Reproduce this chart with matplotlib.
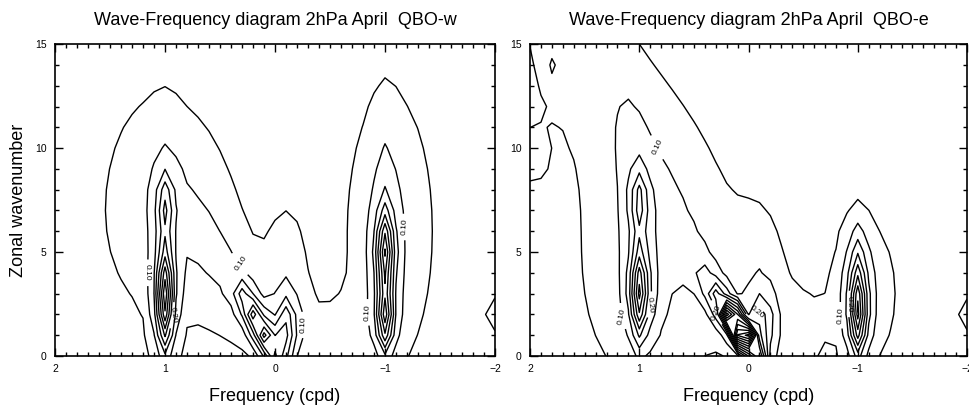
import numpy as np
import matplotlib
matplotlib.use("Agg")
import matplotlib.pyplot as plt
from matplotlib.ticker import MultipleLocator

plt.rcParams['font.family'] = ['Liberation Sans', 'DejaVu Sans']

# Frecuencia (cpd) y numero de onda zonal de la malla
freq = np.round(np.arange(2.0, -2.0001, -0.1), 2)
wave = np.arange(0, 16)

levels = [0.05, 0.10, 0.15, 0.20, 0.25, 0.30, 0.35, 0.40, 0.45, 0.50, 0.55, 0.60, 0.65, 0.70]
label_levels = [0.10, 0.20]

# Picos espectrales QBO-w: centro (f, k), amplitud, anchos, inclinacion df/dk
w_f0 = [1.00, 1.00, 1.00, 1.00, 0.45, 0.12, -0.10, -0.12, -1.05, -1.00, -1.00,
        -1.00, -2.00, -0.50]
w_k0 = [7.0, 2.8, 7.3, 4.5, 4.0, 1.2, 1.3, 3.0, 6.0, 5.0, 1.8, 5.0, 2.0, 1.0]
w_amp = [0.075, 0.33, 0.12, 0.06, 0.06, 0.30, 0.18, 0.07, 0.09, 0.25, 0.25,
         0.07, 0.07, 0.04]
w_sf = [0.60, 0.055, 0.055, 0.09, 0.25, 0.07, 0.07, 0.15, 0.35, 0.055, 0.055,
        0.08, 0.10, 0.20]
w_sk = [5.5, 1.6, 1.0, 4.0, 3.5, 1.5, 1.0, 3.3, 6.0, 1.3, 1.0, 4.0, 1.0, 1.5]
w_tilt = [0.0, 0.0, 0.0, 0.0, 0.08, 0.09, 0.0, 0.0, 0.0, 0.0, 0.0, 0.0, 0.0, 0.0]

# Picos espectrales QBO-e
e_f0 = [1.55, 0.90, 1.00, 1.00, 0.97, 0.07, 0.25, -0.12, -0.12, -1.05, -1.00,
        -1.00, -2.00, 1.80, -0.45, 2.00]
e_k0 = [15.0, 4.0, 3.0, 7.5, 6.0, 1.2, 2.5, 1.5, 3.0, 3.0, 2.0, 4.5, 2.0, 13.7,
        1.0, 9.5]
e_amp = [0.075, 0.09, 0.30, 0.13, 0.05, 0.70, 0.12, 0.16, 0.07, 0.08, 0.32,
         0.10, 0.07, 0.05, 0.06, 0.05]
e_sf = [0.50, 0.55, 0.06, 0.06, 0.10, 0.06, 0.10, 0.07, 0.18, 0.30, 0.06, 0.07,
        0.10, 0.06, 0.15, 0.15]
e_sk = [7.0, 5.0, 1.5, 1.0, 4.0, 0.9, 1.8, 1.0, 3.2, 3.5, 1.4, 1.5, 1.0, 0.8,
        1.5, 1.5]
e_tilt = [0.10, 0.0, 0.0, 0.0, 0.02, 0.12, 0.10, 0.0, 0.0, 0.0, 0.0, 0.0, 0.0,
          0.0, 0.0, 0.0]

# Posiciones de las etiquetas (f, k)
w_labels = [(1.13, 4.0), (0.97, 2.0), (0.30, 4.5), (-0.30, 1.5), (-0.80, 2.1), (-1.16, 6.2)]
e_labels = [(0.85, 10.0), (1.17, 1.9), (0.95, 2.5), (0.28, 2.1), (-0.08, 2.1), (-0.75, 1.9), (-0.98, 2.5)]


def espectro(f0, k0, amp, sf, sk, tilt):
    F, K = np.meshgrid(freq, wave)
    z = np.zeros_like(F)
    for a, b, c, d, e, t in zip(f0, k0, amp, sf, sk, tilt):
        df = (F - a - t * (K - b)) / d
        dk = (K - b) / e
        z += c * np.exp(-0.5 * (df ** 2 + dk ** 2))
    return z


def panel(ax, z, titulo, etiquetas):
    otros = [l for l in levels if l not in label_levels]
    ax.contour(freq, wave, z, levels=otros, colors="black", linewidths=1.0)
    cs = ax.contour(freq, wave, z, levels=label_levels, colors="black", linewidths=1.0)
    ax.clabel(cs, fmt="%.2f", fontsize=6, inline=True, manual=etiquetas)
    ax.set_xlim(2, -2)
    ax.set_ylim(0, 15)
    ax.xaxis.set_minor_locator(MultipleLocator(0.1))
    ax.yaxis.set_major_locator(MultipleLocator(5))
    ax.yaxis.set_minor_locator(MultipleLocator(1))
    ax.tick_params(which="both", direction="in", top=True, right=True,
                   labelsize=7.5, width=1)
    ax.tick_params(which="major", length=6, pad=6)
    ax.tick_params(which="minor", length=3)
    ax.set_xticks([2, 1, 0, -1, -2])
    ax.set_xticklabels(["2", "1", "0", "\u22121", "\u22122"])
    for s in ax.spines.values():
        s.set_linewidth(1.2)
    ax.set_xlabel("Frequency (cpd)", fontsize=13, labelpad=10)
    ax.set_title(titulo, fontsize=13, pad=14)


fig = plt.figure(figsize=(9.69, 4.13), dpi=100)
ax1 = fig.add_axes([0.0568, 0.138, 0.454, 0.755])
ax2 = fig.add_axes([0.547, 0.138, 0.451, 0.755])

panel(ax1, espectro(w_f0, w_k0, w_amp, w_sf, w_sk, w_tilt),
      "Wave-Frequency diagram 2hPa April  QBO-w", w_labels)
panel(ax2, espectro(e_f0, e_k0, e_amp, e_sf, e_sk, e_tilt),
      "Wave-Frequency diagram 2hPa April  QBO-e", e_labels)
ax1.set_ylabel("Zonal wavenumber", fontsize=13, labelpad=6)

fig.savefig("out.png", dpi=100)
